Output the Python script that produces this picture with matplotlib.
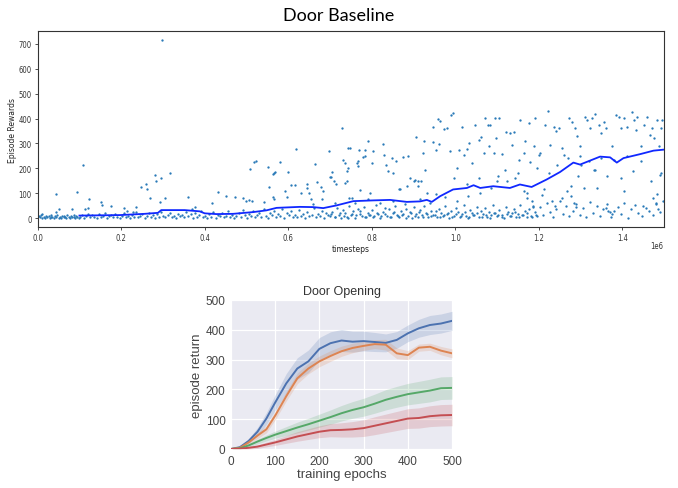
import matplotlib
matplotlib.use("Agg")
import matplotlib.pyplot as plt
import numpy as np

# ---------------- top chart data (timesteps in thousands, rewards) ----------------
low_pts = [
    (2,8),(5,3),(8,12),(11,2),(14,5),(17,1),(20,7),(23,3),(26,10),(29,2),(32,4),(35,6),(38,1),(41,9),
    (44,3),(47,14),(50,2),(53,5),(56,1),(59,8),(62,3),(65,6),(68,2),(71,11),(74,4),(77,1),(80,7),(83,3),
    (86,5),(89,2),(92,9),(95,4),(98,1),(10,16),(31,12),(63,10),(88,13),
    (101,5),(106,14),(111,2),(116,8),(121,18),(126,3),(131,11),(136,6),(141,1),(146,15),(151,4),(156,9),
    (161,22),(166,2),(171,7),(176,12),(181,3),(186,17),(191,5),(196,1),(201,10),(206,20),(211,4),(216,8),
    (221,2),(226,13),(231,6),(236,24),(241,3),(246,9),(251,15),(256,1),(261,7),(266,19),(271,4),(276,11),
    (281,2),(286,16),(291,6),(296,26),(301,9),(306,3),(311,13),(316,22),(321,5),(326,10),(331,1),(336,18),
    (341,7),(346,12),(351,3),(356,25),(361,8),(366,15),(371,2),(376,20),(381,6),(386,11),(391,28),(396,4),
    (401,9),(406,2),(411,16),(416,5),(421,24),(426,1),(431,12),(436,7),(441,19),(446,3),(451,10),(456,27),
    (461,4),(466,14),(471,1),(476,8),(481,21),(486,5),(491,32),(496,11),(501,2),(506,17),(511,7),(516,28),
    (521,3),(526,13),(531,22),(536,6),(541,36),(546,9),(551,1),(556,19),(561,12),(566,30),(571,4),(576,15),
    (581,8),(586,38),(591,2),(596,20),(601,11),(606,27),(611,6),(616,14),(621,3),(626,33),(631,9),(636,18),
    (641,1),(646,24),(651,7),(656,12),(661,40),(666,4),(671,16),(676,10),(681,29),(686,2),(691,21),(696,13),
    (701,8),(706,25),(711,3),(716,42),(721,14),(726,1),(731,33),(736,19),(741,6),(746,50),(751,11),(756,28),
    (761,2),(766,37),(771,16),(776,9),(781,45),(786,4),(791,22),(796,13),(801,31),(806,7),(811,52),(816,18),
    (821,1),(826,26),(831,40),(836,10),(841,35),(846,5),(851,20),(856,47),(861,12),(866,3),(871,29),(876,15),
    (881,38),(886,8),(891,24),(896,2),(901,44),(906,17),(911,6),(916,32),(921,11),(926,49),(931,21),(936,4),
    (941,27),(946,14),(951,12),(956,3),(961,36),(966,20),(971,7),(976,48),(981,15),(986,1),(991,30),(996,9),
    (1001,41),(1006,25),(1011,5),(1016,18),(1021,53),(1026,10),(1031,2),(1036,34),(1041,22),(1046,13),
    (1051,46),(1056,6),(1061,27),(1066,16),(1071,39),(1076,4),(1081,24),(1086,11),(1091,51),(1096,19),
    (1101,8),(1106,31),(1111,14),(1116,2),(1121,43),(1126,26),(1131,9),(1136,21),(1141,37),(1146,5),
    (1151,17),(1156,54),(1161,12),(1166,28),(1171,3),(1176,35),(1181,10),(1186,45),(1191,23),(1196,7),
    (1203,45),(1211,12),(1219,60),(1226,25),(1234,5),(1242,38),(1250,70),(1257,18),(1265,48),(1273,8),
    (1281,30),(1290,55),(1298,14),(1306,40),(1314,3),(1322,65),(1331,22),(1339,50),(1347,10),(1355,35),
    (1364,58),(1372,5),(1380,28),(1389,44),(1397,16),(1405,62),(1414,2),(1422,36),(1430,52),(1439,20),
    (1447,8),(1456,42),(1464,30),(1473,12),(1481,55),(1490,25),(1497,68),
    (703,15),(713,5),(723,22),(733,9),(743,2),(753,18),(763,11),(773,27),(783,6),(793,14),(803,3),(813,21),
    (823,9),(833,16),(843,4),(853,25),(863,8),(873,13),(883,2),(893,19),(903,10),(913,23),(923,4),(933,15),
    (943,7),(953,28),(963,3),(973,12),(983,20),(993,5),(1003,16),(1013,9),(1023,24),(1033,3),(1043,14),
    (1053,19),(1063,6),(1073,11),(1083,2),(1093,22),(1103,13),(1113,5),(1123,17),(1133,8),(1143,26),
    (1153,3),(1163,14),(1173,20),(1183,6),(1193,12),
]

high_pts = [
    (45,98),(108,213),(94,105),(123,77),(50,37),(44,25),(82,37),(113,37),(120,40),(152,65),(154,53),
    (176,49),(206,41),(214,30),(235,43),(228,26),(247,125),(259,137),(261,115),(281,174),(283,149),
    (295,162),(318,180),(269,79),(294,64),(305,79),(297,717),(360,84),(377,45),(370,37),
    (418,61),(431,104),(450,88),(473,84),(492,79),(498,70),(506,72),(514,68),(509,197),(517,224),
    (524,230),(541,63),(552,204),(554,125),(563,178),(566,182),(568,186),(563,85),(565,75),(580,224),
    (592,108),(596,84),(600,185),(606,134),(616,134),(618,276),(630,101),(644,137),(646,121),(650,101),
    (655,75),(660,55),(663,217),(670,143),(678,125),(680,78),(683,110),(697,268),(699,167),(703,167),
    (706,185),(709,148),(715,135),(712,60),(730,361),(731,235),(735,220),(740,150),(742,190),(744,281),
    (747,283),(746,80),(752,80),(737,141),(743,201),
    (764,221),(766,208),(768,228),(770,274),(772,114),(780,244),(784,274),(790,308),(795,101),(800,221),
    (804,271),(783,248),(826,298),(830,252),(834,215),(838,188),(848,241),(852,181),(858,231),(866,118),
    (876,244),(886,248),(885,128),(906,324),(904,155),(912,150),(918,147),(922,261),(926,308),(928,195),
    (946,365),(948,305),(954,274),(958,397),(964,390),(960,297),(972,357),(980,364),(990,414),(994,424),
    (988,268),(997,161),(1004,201),(1008,274),(1016,368),(1020,255),(1028,278),(1032,301),(1048,374),
    (1057,161),(1072,401),(1078,374),(1096,401),(1098,321),(1112,257),(1122,344),(1040,221),(1056,315),
    (1062,324),(1068,261),(1080,288),(1084,375),(1092,261),(1104,401),(1102,168),(1120,195),(1132,341),
    (1136,295),(1140,344),(1152,235),(1156,395),(1164,261),(1168,308),(1176,381),(1188,288),(1192,404),
    (1200,255),(1204,261),(1212,115),(1216,375),(1222,431),(1228,295),(1236,368),(1242,348),(1248,361),
    (1256,281),(1260,255),(1268,108),(1272,401),(1280,388),(1286,361),(1292,328),(1298,288),(1302,215),
    (1312,408),(1316,395),(1324,361),(1328,401),(1336,417),(1344,375),(1348,341),(1356,388),(1360,361),
    (1364,168),(1376,288),(1384,415),(1392,408),(1396,361),(1404,401),(1412,368),(1424,428),(1428,395),
    (1432,355),(1436,408),(1444,288),(1452,375),(1460,408),(1466,335),(1472,361),(1476,321),(1484,395),
    (1488,288),(1494,361),(1496,395),(1492,181),(1484,95),
    (868,115),(892,161),(902,150),(912,128),(932,101),(955,95),(1028,135),(1100,150),(1164,108),
    (1143,161),(1171,81),(1172,101),(1184,68),(1186,48),(1208,94),(1232,68),(1240,50),(1256,81),
    (1277,128),(1278,88),(1285,60),(1290,45),(1295,168),(1308,120),(1332,195),(1336,195),(1340,120),
    (1360,40),(1366,30),(1370,25),(1375,18),(1397,161),(1405,110),(1426,188),(1450,48),(1474,81),
    (1480,60),(1485,35),(1490,175),(1470,150),(1445,230),(1412,250),(1380,235),(1350,240),(1320,230),
    (1300,250),(1270,240),(1245,215),(1225,180),(1195,200),(1180,225),(1150,180),(1125,150),(1085,120),
    (1060,100),(1030,90),(1005,70),(975,85),(940,60),(915,75),(880,55),(850,70),(820,60),(790,75),(760,62),
]

run_x = [100,197,256,288,296,352,388,400,428,468,516,548,572,628,660,684,716,756,803,844,884,916,932,
         944,964,995,1028,1044,1060,1091,1131,1155,1183,1219,1251,1283,1299,1347,1371,1387,1403,1443,
         1475,1499]
run_y = [10,12,17,21,32,32,27,19,16,17,24,31,41,45,44,40,51,68,71,73,65,67,73,65,88,115,121,132,121,
         128,121,135,125,155,185,223,215,247,244,223,241,257,271,275]

# ---------------- bottom chart data ----------------
epochs = [0,20,40,60,80,100,125,150,175,200,225,250,275,300,325,350,375,400,425,450,475,500]
blue_mean   = [0,6,27,58,102,156,220,270,294,336,355,364,360,362,359,356,366,388,405,416,421,430]
blue_hw     = [0,2,8,14,20,26,33,36,38,38,38,37,35,33,32,30,28,28,30,32,32,32]
orange_mean = [0,4,22,45,66,112,177,237,270,294,312,328,339,346,352,350,321,315,340,343,330,321]
orange_hw   = [0,2,6,10,12,14,16,18,18,18,18,17,16,15,15,18,18,15,12,12,14,15]
green_mean  = [0,2,12,25,37,48,60,72,83,95,107,120,131,140,152,165,175,184,190,196,204,205]
green_hw    = [0,2,5,8,10,12,15,18,20,22,24,26,28,30,32,34,35,36,37,38,38,38]
red_mean    = [0,1,4,8,15,22,32,42,50,58,63,64,66,70,78,86,94,102,104,110,113,114]
red_hw      = [0,2,4,6,8,10,13,16,18,20,22,24,26,28,30,31,32,33,34,35,36,36]

fig = plt.figure(figsize=(6.78, 4.89), dpi=100)
fig.patch.set_facecolor("white")

fig.text(0.5, 0.968, "Door Baseline", ha="center", va="center", fontsize=13, family="Lato")

# ---------------- top axes ----------------
ax1 = fig.add_axes([0.0556, 0.5337, 0.9237, 0.4009])
pts = low_pts + high_pts
sx = np.array([p[0] for p in pts]) * 1000.0
sy = np.array([p[1] for p in pts])
ax1.scatter(sx, sy, s=2.8, color="#2a7ab8", linewidths=0)
ax1.plot(np.array(run_x) * 1000.0, run_y, color="#1028ff", lw=1.3)
ax1.set_xlim(0, 1.5e6)
ax1.set_ylim(-36, 752)
ax1.set_yticks([0, 100, 200, 300, 400, 500, 600, 700])
ax1.set_xticks([0, 0.2e6, 0.4e6, 0.6e6, 0.8e6, 1.0e6, 1.2e6, 1.4e6])
tf = dict(family="DejaVu Sans", stretch="condensed", size=5.5)
ax1.set_xticklabels(["0.0", "0.2", "0.4", "0.6", "0.8", "1.0", "1.2", "1.4"], **tf)
ax1.set_yticklabels([str(v) for v in [0, 100, 200, 300, 400, 500, 600, 700]], **tf)
ax1.tick_params(length=2.5, width=0.6, pad=2, colors="#333333")
for s in ax1.spines.values():
    s.set_linewidth(0.8)
    s.set_color("#333333")
ax1.set_xlabel("timesteps", fontsize=5.5, labelpad=1, color="#222222")
ax1.set_ylabel("Episode Rewards", fontsize=5.5, labelpad=1, color="#222222")
fig.text(0.969, 0.496, "1e6", fontsize=5.5, ha="center", va="center", color="#333333",
         family="DejaVu Sans", stretch="condensed")

# ---------------- bottom axes ----------------
ax2 = fig.add_axes([0.3407, 0.0798, 0.326, 0.3047])
ax2.set_facecolor("#EAEAF2")
ax2.grid(True, color="white", lw=0.9)
ax2.set_axisbelow(True)
for s in ax2.spines.values():
    s.set_visible(False)
series = [
    (blue_mean, blue_hw, "#4C72B0"),
    (orange_mean, orange_hw, "#DD8452"),
    (green_mean, green_hw, "#55A868"),
    (red_mean, red_hw, "#C44E52"),
]
for m, h, c in series:
    m = np.array(m, float); h = np.array(h, float)
    ax2.fill_between(epochs, m - h, m + h, color=c, alpha=0.2, lw=0)
    ax2.plot(epochs, m, color=c, lw=1.4)
ax2.set_xlim(0, 500)
ax2.set_ylim(0, 500)
ax2.set_xticks([0, 100, 200, 300, 400, 500])
ax2.set_yticks([0, 100, 200, 300, 400, 500])
ax2.tick_params(length=0, pad=4, labelsize=8.5, colors="#444444")
for lab in ax2.get_xticklabels() + ax2.get_yticklabels():
    lab.set_family("Liberation Sans")
ax2.set_title("Door Opening", fontsize=9, family="Liberation Sans", color="#333333", pad=4)
ax2.set_xlabel("training epochs", fontsize=9.5, family="Liberation Sans", color="#444444", labelpad=1)
ax2.set_ylabel("episode return", fontsize=9.5, family="Liberation Sans", color="#444444", labelpad=2)

fig.savefig("out.png", dpi=100)
